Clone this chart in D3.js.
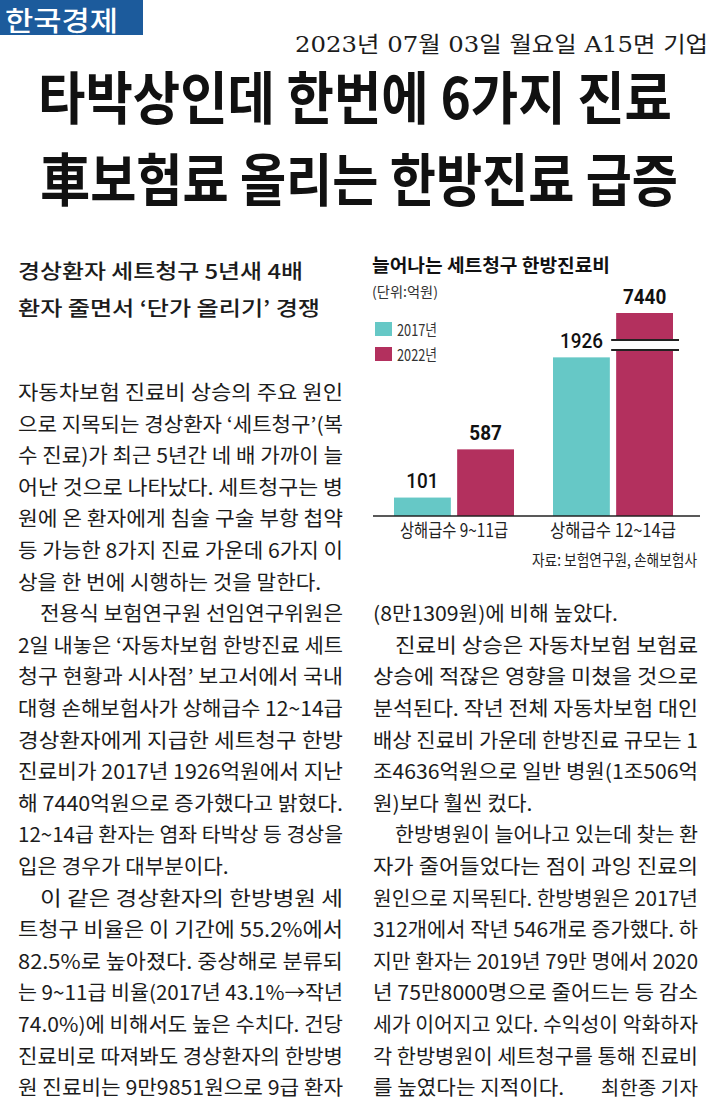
<!DOCTYPE html>
<html>
<head>
<meta charset="utf-8">
<script src="https://cdn.jsdelivr.net/npm/d3@7"></script>
<style>
  body { margin: 0; background: #fff; }
  text { font-family: "Noto Sans CJK KR", "Noto Sans", sans-serif; fill: #1c1c1c; }
</style>
</head>
<body>
<div id="cnt"></div>
<script>
let ancho = 715;
let largo = 1120;

// 차트 데이터
let categorias = ["상해급수 9~11급", "상해급수 12~14급"];
let anios = ["2017년", "2022년"];
let valores2017 = [101, 1926];
let valores2022 = [587, 7440];
let colores = ["#66c8c6", "#b3305e"];
let corte = 2700;   // 이 값 위로는 막대를 생략 표시

// 본문 (단락별 줄)
let colIzq = [
  { sangria: false, fin: true, lineas: [
    "자동차보험 진료비 상승의 주요 원인",
    "으로 지목되는 경상환자 ‘세트청구’(복",
    "수 진료)가 최근 5년간 네 배 가까이 늘",
    "어난 것으로 나타났다. 세트청구는 병",
    "원에 온 환자에게 침술 구술 부항 첩약",
    "등 가능한 8가지 진료 가운데 6가지 이",
    "상을 한 번에 시행하는 것을 말한다."]},
  { sangria: true, fin: true, lineas: [
    "전용식 보험연구원 선임연구위원은",
    "2일 내놓은 ‘자동차보험 한방진료 세트",
    "청구 현황과 시사점’ 보고서에서 국내",
    "대형 손해보험사가 상해급수 12~14급",
    "경상환자에게 지급한 세트청구 한방",
    "진료비가 2017년 1926억원에서 지난",
    "해 7440억원으로 증가했다고 밝혔다.",
    "12~14급 환자는 염좌 타박상 등 경상을",
    "입은 경우가 대부분이다."]},
  { sangria: true, fin: false, lineas: [
    "이 같은 경상환자의 한방병원 세",
    "트청구 비율은 이 기간에 55.2%에서",
    "82.5%로 높아졌다. 중상해로 분류되",
    "는 9~11급 비율(2017년 43.1%→작년",
    "74.0%)에 비해서도 높은 수치다. 건당",
    "진료비로 따져봐도 경상환자의 한방병",
    "원 진료비는 9만9851원으로 9급 환자"]}
];
let colDer = [
  { sangria: false, fin: true, lineas: [
    "(8만1309원)에 비해 높았다."]},
  { sangria: true, fin: true, lineas: [
    "진료비 상승은 자동차보험 보험료",
    "상승에 적잖은 영향을 미쳤을 것으로",
    "분석된다. 작년 전체 자동차보험 대인",
    "배상 진료비 가운데 한방진료 규모는 1",
    "조4636억원으로 일반 병원(1조506억",
    "원)보다 훨씬 컸다."]},
  { sangria: true, fin: true, lineas: [
    "한방병원이 늘어나고 있는데 찾는 환",
    "자가 줄어들었다는 점이 과잉 진료의",
    "원인으로 지목된다. 한방병원은 2017년",
    "312개에서 작년 546개로 증가했다. 하",
    "지만 환자는 2019년 79만 명에서 2020",
    "년 75만8000명으로 줄어드는 등 감소",
    "세가 이어지고 있다. 수익성이 악화하자",
    "각 한방병원이 세트청구를 통해 진료비",
    "를 높였다는 지적이다."]}
];

let svg = d3.select('#cnt')
    .append("svg")
    .attr('width', ancho)
    .attr('height', largo)
    .style('display', 'block')

svg.append("rect")
    .attr('width', ancho)
    .attr('height', largo)
    .attr('fill', '#ffffff')

// 글자 폭 맞추기
function ajusta(t, w) {
    t.attr('textLength', w).attr('lengthAdjust', 'spacingAndGlyphs');
    return t;
}
function angosta(t, k) {
    let w = t.node().getComputedTextLength();
    return ajusta(t, w * k);
}

//Cabecera
svg.append("rect")
    .attr('x', 0).attr('y', 0)
    .attr('width', 143).attr('height', 35)
    .attr('fill', '#1c5b9c')

ajusta(svg.append("text")
    .attr('x', 5).attr('y', 31)
    .style('font-size', '27px')
    .style('font-weight', 500)
    .style('fill', '#ffffff')
    .text("한국경제"), 113)

ajusta(svg.append("text")
    .attr('x', 295).attr('y', 52)
    .style('font-family', '"DejaVu Serif", "Liberation Serif", "Noto Sans CJK KR", serif')
    .style('font-size', '22px')
    .text("2023년 07월 03일 월요일 A15면 기업"), 413)

// 제목
ajusta(svg.append("text")
    .attr('x', 38).attr('y', 119)
    .style('font-size', '57px')
    .style('font-weight', 700)
    .style('fill', '#111')
    .text("타박상인데 한번에 6가지 진료"), 634)

ajusta(svg.append("text")
    .attr('x', 40).attr('y', 201)
    .style('font-size', '57px')
    .style('font-weight', 700)
    .style('fill', '#111')
    .text("車보험료 올리는 한방진료 급증"), 638)

// 부제
ajusta(svg.append("text")
    .attr('x', 18).attr('y', 279)
    .style('font-size', '20.5px')
    .style('font-weight', 500)
    .text("경상환자 세트청구 5년새 4배"), 285)

ajusta(svg.append("text")
    .attr('x', 18).attr('y', 316)
    .style('font-size', '20.5px')
    .style('font-weight', 500)
    .text("환자 줄면서 ‘단가 올리기’ 경쟁"), 302)

// 본문
let interlinea = 31.6;
let sangria = 22;
let anchoCol = 325;

function columna(parrafos, x0, fila0) {
    let fila = fila0;
    let tramos = [];
    parrafos.forEach(function(p) {
        p.lineas.forEach(function(l, i) {
            let dx = (p.sangria && i == 0) ? sangria : 0;
            let lleno = !(p.fin && i == p.lineas.length - 1);
            let t = svg.append("text")
                .attr('x', x0 + dx)
                .attr('y', 400 + fila * interlinea)
                .style('font-size', '20px')
                .text(l);
            tramos.push({ t: t, lleno: lleno, w: anchoCol - dx });
            fila++;
        });
    });
    return tramos;
}

let tramos = columna(colIzq, 18, 0).concat(columna(colDer, 373, 7));
let razones = tramos.filter(d => d.lleno).map(d => d.w / d.t.node().getComputedTextLength());
let k = d3.median(razones);
tramos.forEach(function(d) {
    if (d.lleno) ajusta(d.t, d.w);
    else angosta(d.t, k);
});

angosta(svg.append("text")
    .attr('x', 698).attr('y', 400 + 22 * interlinea)
    .attr('text-anchor', 'end')
    .style('font-size', '19px')
    .text("최한종 기자"), k)

// ===== 차트 =====
let base = 516;

ajusta(svg.append("text")
    .attr('x', 372).attr('y', 272)
    .style('font-size', '18px')
    .style('font-weight', 700)
    .style('fill', '#111')
    .text("늘어나는 세트청구 한방진료비"), 238)

ajusta(svg.append("text")
    .attr('x', 372).attr('y', 297)
    .style('font-size', '14px')
    .style('fill', '#333')
    .text("(단위:억원)"), 66)

// 범례
let leyenda = svg.selectAll(".ley")
    .data(anios).enter()
    .append("g")
    .attr('class', 'ley')
    .attr('transform', (d, i) => "translate(375," + (322 + i * 25) + ")")

leyenda.append("rect")
    .attr('width', 17)
    .attr('height', 14)
    .attr('fill', (d, i) => colores[i])

leyenda.append("text")
    .attr('x', 22)
    .attr('y', 14)
    .style('font-size', '16px')
    .style('fill', '#333')
    .text(d => d)
    .each(function() { ajusta(d3.select(this), 40); })

// 척도
let x0 = d3.scaleBand()
    .domain(categorias)
    .range([374.5, 692.5])

let x1 = d3.scaleBand()
    .domain(anios)
    .range([(x0.bandwidth() - 120) / 2, (x0.bandwidth() + 120) / 2])
    .paddingInner(0.1)

let y = d3.scalePow()
    .exponent(0.73)
    .domain([0, corte])
    .range([base, 313])
    .clamp(true)

let filas = categorias.map(function(c, i) {
    return { cat: c, vals: [
        { anio: anios[0], v: valores2017[i], c: 0 },
        { anio: anios[1], v: valores2022[i], c: 1 }
    ]};
});

let grupos = svg.selectAll(".grp")
    .data(filas).enter()
    .append("g")
    .attr('class', 'grp')
    .attr('transform', d => "translate(" + x0(d.cat) + ",0)")

grupos.selectAll("rect")
    .data(d => d.vals).enter()
    .append("rect")
    .attr('x', d => x1(d.anio))
    .attr('y', d => y(d.v))
    .attr('width', x1.bandwidth())
    .attr('height', d => base - y(d.v))
    .attr('fill', d => colores[d.c])

grupos.selectAll(".val")
    .data(d => d.vals).enter()
    .append("text")
    .attr('class', 'val')
    .attr('x', d => x1(d.anio) + x1.bandwidth() / 2)
    .attr('y', d => y(d.v) - 9.5)
    .attr('text-anchor', 'middle')
    .style('font-family', 'Roboto, "Liberation Sans", sans-serif')
    .style('font-size', '21px')
    .style('font-weight', d => d.c == 1 ? 700 : 500)
    .style('fill', '#111')
    .text(d => d.v)
    .each(function() { angosta(d3.select(this), 0.9); })

// 생략 표시
let cortes = grupos.selectAll(".corte")
    .data(d => d.vals.filter(v => v.v > corte)).enter()
    .append("g")
    .attr('class', 'corte')
    .attr('transform', d => "translate(" + x1(d.anio) + "," + (y(corte) + 27) + ")")

cortes.append("rect")
    .attr('x', -5).attr('y', 0)
    .attr('width', x1.bandwidth() + 11)
    .attr('height', 10)
    .attr('fill', '#ffffff')

cortes.selectAll("line")
    .data([0, 10]).enter()
    .append("line")
    .attr('x1', -5).attr('x2', x1.bandwidth() + 6)
    .attr('y1', d => d).attr('y2', d => d)
    .attr('stroke', '#222')
    .attr('stroke-width', 1.8)

// 축선
svg.append("line")
    .attr('x1', 373).attr('x2', 700)
    .attr('y1', base).attr('y2', base)
    .attr('stroke', '#222')
    .attr('stroke-width', 1.5)

let anchosCat = [108, 126];
svg.selectAll(".cat")
    .data(categorias).enter()
    .append("text")
    .attr('class', 'cat')
    .attr('x', d => x0(d) + x0.bandwidth() / 2)
    .attr('y', 537)
    .attr('text-anchor', 'middle')
    .style('font-size', '18px')
    .style('fill', '#222')
    .text(d => d)
    .each(function(d, i) { ajusta(d3.select(this), anchosCat[i]); })

ajusta(svg.append("text")
    .attr('x', 697).attr('y', 566)
    .attr('text-anchor', 'end')
    .style('font-size', '16px')
    .style('fill', '#222')
    .text("자료: 보험연구원, 손해보험사"), 165)
</script>
</body>
</html>
